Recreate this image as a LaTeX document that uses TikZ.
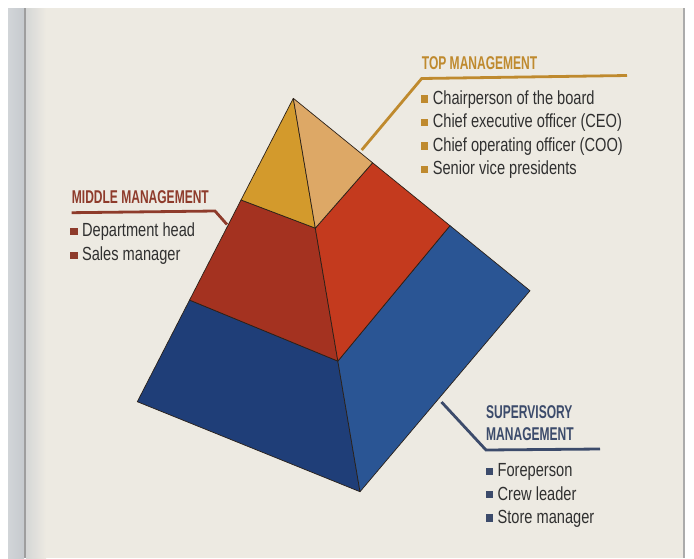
\documentclass[tikz,border=0pt]{standalone}
\usepackage{fontspec}
\setmainfont{Liberation Sans}[FakeStretch=0.77]
\newfontfamily\headfont{Liberation Sans}[FakeStretch=0.65]
\usetikzlibrary{calc}

\definecolor{paper}{HTML}{EDEAE2}
\definecolor{ink}{HTML}{303030}
\definecolor{edge}{HTML}{2A2018}
\definecolor{topgold}{HTML}{BF8A2E}
\definecolor{midred}{HTML}{8E3B2B}
\definecolor{supblue}{HTML}{3C4B6B}
\definecolor{goldL}{HTML}{D39A2C}
\definecolor{goldR}{HTML}{DDA866}
\definecolor{redL}{HTML}{A43220}
\definecolor{redR}{HTML}{C43A1E}
\definecolor{blueL}{HTML}{1F3E78}
\definecolor{blueR}{HTML}{2A5594}
\definecolor{band}{HTML}{C6CACE}

% small coloured square in front of each entry
\newcommand{\sq}[1]{\textcolor{#1}{\rule[1.6pt]{7.3pt}{7.3pt}}\hspace{4.6pt}}

\tikzset{
  head/.style={anchor=base west, inner sep=0pt, font=\headfont\bfseries\fontsize{18.5}{20}\selectfont},
  entry/.style={anchor=base west, inner sep=0pt, text=ink, font=\fontsize{19}{22}\selectfont},
  leader/.style={line width=2.8pt, line join=miter},
  face/.style={draw=edge, line width=0.7pt, line join=round}
}

\begin{document}
\begin{tikzpicture}[x=1pt,y=-1pt]
  \useasboundingbox (0,0) rectangle (694,558);

  % page and binding
  \fill[white] (0,0) rectangle (694,558);
  \fill[paper] (8,8) rectangle (684,558);
  \fill[left color=band!80, right color=band] (8,8) rectangle (24,558);
  \fill[black!38] (24,8) rectangle (26,558);
  \fill[left color=band!60!paper, right color=paper] (26,8) rectangle (46,558);
  \fill[black!33] (683,8) rectangle (685,558);

  % pyramid corners
  \coordinate (A) at (293.3,98.3);
  \coordinate (B1) at (137.3,401.7);
  \coordinate (B2) at (360,491.7);
  \coordinate (B3) at (530,290.7);
  \coordinate (T1) at ($(A)!0.335!(B1)$);
  \coordinate (T2) at ($(A)!0.33!(B2)$);
  \coordinate (T3) at ($(A)!0.335!(B3)$);
  \coordinate (M1) at ($(A)!0.665!(B1)$);
  \coordinate (M2) at ($(A)!0.668!(B2)$);
  \coordinate (M3) at ($(A)!0.662!(B3)$);

  % faces, layer by layer
  \draw[face, fill=blueL] (M1) -- (B1) -- (B2) -- (M2) -- cycle;
  \draw[face, fill=blueR] (M2) -- (B2) -- (B3) -- (M3) -- cycle;
  \draw[face, fill=redL] (T1) -- (M1) -- (M2) -- (T2) -- cycle;
  \draw[face, fill=redR] (T2) -- (M2) -- (M3) -- (T3) -- cycle;
  \draw[face, fill=goldL] (A) -- (T1) -- (T2) -- cycle;
  \draw[face, fill=goldR] (A) -- (T2) -- (T3) -- cycle;

  % top management
  \node[head, text=topgold] (tophead) at (421.7,69) {TOP MANAGEMENT};
  \coordinate (topfoot) at (361.7,150);
  \coordinate (topbend) at (421.7,78.5);
  \coordinate (topend) at (627,75.5);
  \draw[leader, topgold] (topfoot) -- (topbend) -- (topend);
  \node[entry] (top1) at (420.7,104.3) {\sq{topgold}Chairperson of the board};
  \node[entry] (top2) at (420.7,127.7) {\sq{topgold}Chief executive officer (CEO)};
  \node[entry] (top3) at (420.7,151.1) {\sq{topgold}Chief operating officer (COO)};
  \node[entry] (top4) at (420.7,174.5) {\sq{topgold}Senior vice presidents};

  % middle management
  \node[head, text=midred] (midhead) at (71.7,203) {MIDDLE MANAGEMENT};
  \coordinate (midstart) at (71.7,212.7);
  \coordinate (midbend) at (215,211);
  \coordinate (midfoot) at (227,224.5);
  \draw[leader, midred] (midstart) -- (midbend) -- (midfoot);
  \node[entry] (mid1) at (70,236.7) {\sq{midred}Department head};
  \node[entry] (mid2) at (70,260.5) {\sq{midred}Sales manager};

  % supervisory management
  \node[head, text=supblue] (suphead) at (486,418) {SUPERVISORY};
  \node[head, text=supblue] (suphead2) at (486,440) {MANAGEMENT};
  \coordinate (supfoot) at (441.5,402);
  \coordinate (supbend) at (486,450);
  \coordinate (supend) at (600,449);
  \draw[leader, supblue] (supfoot) -- (supbend) -- (supend);
  \node[entry] (sup1) at (485.5,476.7) {\sq{supblue}Foreperson};
  \node[entry] (sup2) at (485.5,500) {\sq{supblue}Crew leader};
  \node[entry] (sup3) at (485.5,523.3) {\sq{supblue}Store manager};
\end{tikzpicture}
\end{document}
